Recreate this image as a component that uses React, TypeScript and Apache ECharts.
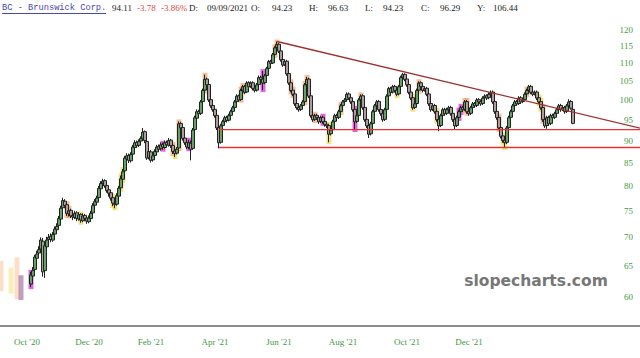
import React, { useEffect, useRef } from 'react';
import * as echarts from 'echarts';

// ---- data ----
const TOTAL_SLOTS = 320;
const FIRST_CANDLE = 15;
// [open, high, low, close]
const ohlc: number[][] = [
  [62.0, 64.0, 61.5, 63.5], [63.3, 64.8, 62.8, 64.2], [64.4, 66.9, 64.0, 66.5], [66.3, 67.6, 65.8, 67.0], [67.2, 68.4, 66.6, 67.8],
  [67.9, 70.0, 67.5, 69.5], [69.3, 69.9, 63.2, 64.0], [64.2, 69.0, 63.0, 68.5], [68.3, 70.1, 67.8, 69.5], [69.6, 70.6, 69.0, 70.0],
  [70.2, 70.7, 69.1, 69.6], [69.5, 71.0, 69.2, 70.5], [70.6, 72.0, 70.2, 71.5], [71.4, 72.6, 71.0, 72.0], [72.2, 74.0, 71.8, 73.5],
  [73.4, 76.0, 73.0, 75.5], [75.6, 77.6, 75.2, 77.0], [76.9, 77.3, 75.5, 76.0], [76.2, 76.5, 74.0, 74.5], [74.4, 75.6, 73.9, 75.0],
  [75.1, 75.4, 73.6, 74.0], [74.1, 74.6, 73.2, 73.8], [73.7, 75.0, 73.4, 74.5], [74.6, 74.9, 73.0, 73.5], [73.4, 74.7, 73.1, 74.2],
  [74.3, 74.5, 72.7, 73.2], [73.1, 74.5, 72.8, 74.0], [74.1, 74.4, 73.0, 73.5], [73.6, 73.9, 72.5, 73.0], [72.9, 74.1, 72.6, 73.6],
  [73.5, 75.0, 73.2, 74.5], [74.6, 76.5, 74.3, 76.0], [76.1, 77.3, 75.7, 76.8], [76.7, 78.0, 76.3, 77.5], [77.6, 80.0, 77.3, 79.5],
  [79.4, 81.0, 79.0, 80.5], [80.6, 81.5, 80.1, 81.0], [81.1, 81.4, 79.6, 80.0], [80.1, 80.5, 78.6, 79.0], [79.2, 79.6, 77.8, 78.5],
  [78.6, 78.9, 77.0, 77.5], [77.6, 78.0, 75.9, 76.5], [76.4, 77.0, 75.5, 76.2], [76.3, 78.5, 76.0, 78.0], [77.9, 80.0, 77.5, 79.5],
  [79.6, 82.2, 79.2, 81.5], [81.4, 83.6, 81.0, 83.0], [83.2, 86.5, 82.8, 86.0], [85.8, 87.1, 85.2, 86.5], [86.6, 87.0, 84.9, 85.5],
  [85.4, 87.3, 85.0, 86.8], [86.9, 89.0, 86.5, 88.5], [88.4, 90.1, 88.0, 89.5], [89.6, 90.0, 88.3, 88.8], [88.9, 90.3, 88.5, 89.8],
  [89.9, 91.0, 89.4, 90.5], [90.4, 93.0, 90.0, 92.0], [92.1, 92.4, 89.4, 90.0], [89.8, 90.2, 85.6, 86.0], [86.1, 88.0, 85.7, 87.5],
  [87.4, 87.8, 85.0, 85.5], [85.6, 87.0, 85.2, 86.5], [86.6, 88.0, 86.2, 87.5], [87.4, 89.0, 87.0, 88.5], [88.6, 89.1, 87.5, 88.0],
  [88.1, 89.6, 87.7, 89.0], [89.1, 89.5, 87.9, 88.5], [88.4, 90.0, 88.1, 89.5], [89.6, 90.0, 88.5, 89.0], [88.9, 90.6, 88.6, 90.0],
  [90.1, 90.4, 88.3, 88.8], [88.9, 89.2, 86.9, 87.5], [87.6, 88.0, 86.2, 87.0], [87.1, 88.5, 86.8, 88.0], [88.3, 94.6, 88.0, 94.0],
  [94.1, 94.5, 92.5, 93.0], [93.1, 93.4, 90.0, 90.5], [90.6, 91.0, 89.0, 89.5], [89.6, 90.0, 88.0, 88.5], [88.4, 90.2, 88.0, 89.5],
  [89.4, 90.0, 85.5, 88.0], [88.2, 93.0, 87.9, 92.5], [92.6, 96.0, 92.2, 95.5], [95.4, 97.6, 95.0, 97.0], [97.1, 97.5, 96.0, 96.5],
  [96.6, 100.0, 96.2, 99.5], [99.6, 103.0, 99.2, 102.5], [102.6, 106.8, 102.2, 105.5], [105.6, 106.0, 103.5, 104.0], [104.1, 104.5, 99.5, 100.0],
  [100.1, 100.6, 98.0, 98.5], [98.6, 99.0, 97.0, 97.5], [97.6, 98.0, 95.5, 96.0], [96.1, 96.5, 92.5, 93.0], [93.1, 93.5, 88.2, 89.5],
  [89.6, 94.0, 89.3, 93.5], [93.6, 95.0, 93.2, 94.5], [94.6, 96.0, 94.2, 95.5], [95.6, 96.0, 94.3, 94.8], [94.9, 96.5, 94.6, 96.0],
  [96.1, 97.5, 95.7, 97.0], [97.1, 98.5, 96.7, 98.0], [98.1, 100.0, 97.7, 99.5], [99.6, 101.5, 99.2, 101.0], [101.1, 101.4, 99.5, 100.0],
  [100.1, 103.0, 99.8, 102.5], [102.6, 104.0, 102.2, 103.5], [103.6, 104.0, 101.5, 102.0], [102.1, 105.0, 101.8, 104.5], [104.6, 105.0, 103.0, 103.5],
  [103.6, 105.0, 103.2, 104.5], [104.6, 105.0, 102.5, 103.0], [103.1, 103.5, 102.0, 102.5], [102.6, 104.5, 102.2, 104.0], [104.1, 106.6, 103.8, 106.0],
  [106.1, 106.5, 105.0, 105.5], [105.6, 107.8, 102.6, 104.5], [104.6, 107.0, 104.2, 106.5], [106.6, 109.0, 106.2, 108.5], [108.6, 111.0, 108.2, 110.5],
  [110.6, 111.0, 109.5, 110.0], [110.1, 113.0, 109.8, 112.5], [112.6, 115.0, 112.2, 114.5], [114.6, 116.4, 114.2, 115.5], [115.6, 116.0, 113.0, 113.5],
  [113.6, 114.0, 110.5, 111.0], [111.1, 111.5, 109.0, 109.5], [109.6, 111.0, 109.2, 110.5], [110.6, 111.0, 106.5, 107.0], [107.1, 107.5, 104.0, 104.5],
  [104.6, 105.0, 102.0, 102.5], [102.6, 103.0, 101.0, 101.5], [101.6, 102.0, 98.5, 99.0], [99.1, 99.5, 97.5, 98.0], [98.1, 98.5, 97.0, 97.5],
  [97.6, 99.0, 97.2, 98.5], [98.6, 100.0, 98.2, 99.5], [99.6, 104.5, 99.2, 104.0], [104.1, 106.2, 103.7, 105.5], [105.6, 106.0, 100.5, 101.0],
  [101.1, 101.5, 95.5, 96.0], [96.1, 96.5, 94.5, 95.0], [95.1, 96.5, 94.7, 96.0], [96.1, 96.5, 95.0, 95.5], [95.6, 96.0, 94.0, 94.5],
  [94.6, 96.0, 94.2, 95.5], [95.6, 96.0, 94.0, 94.5], [94.6, 95.0, 93.3, 93.8], [93.9, 94.3, 93.0, 93.5], [93.6, 94.0, 89.6, 91.5],
  [91.6, 93.0, 91.2, 92.5], [92.6, 95.0, 92.2, 94.5], [94.6, 96.5, 94.2, 96.0], [96.1, 96.5, 95.0, 95.5], [95.6, 97.5, 95.2, 97.0],
  [97.1, 99.0, 96.7, 98.5], [98.6, 100.0, 98.2, 99.5], [99.6, 100.5, 99.2, 100.0], [100.1, 102.0, 99.7, 101.5], [101.6, 102.0, 100.0, 100.5],
  [100.6, 101.0, 99.0, 99.5], [99.6, 100.0, 97.0, 97.5], [97.6, 98.0, 92.5, 94.5], [94.6, 96.5, 94.2, 96.0], [96.1, 100.5, 95.7, 100.0],
  [100.1, 101.5, 99.7, 101.0], [101.1, 101.5, 97.5, 98.0], [98.1, 98.5, 94.5, 95.0], [95.1, 95.5, 93.0, 93.5], [93.6, 94.0, 90.6, 91.5],
  [91.6, 94.5, 91.2, 94.0], [94.1, 97.5, 93.7, 97.0], [97.1, 99.0, 96.7, 98.5], [98.6, 100.0, 98.2, 99.5], [99.6, 100.0, 97.0, 97.5],
  [97.6, 98.0, 96.0, 96.5], [96.6, 97.0, 94.5, 95.0], [95.1, 98.0, 94.7, 97.5], [97.6, 101.5, 97.2, 101.0], [101.1, 103.5, 100.7, 103.0],
  [103.1, 103.5, 101.5, 102.0], [102.1, 104.0, 101.7, 103.5], [103.6, 104.0, 102.0, 102.5], [102.6, 103.0, 101.0, 101.5], [101.6, 104.0, 101.2, 103.5],
  [103.6, 106.5, 103.2, 106.0], [106.1, 107.3, 105.7, 106.8], [106.9, 107.2, 105.0, 105.5], [105.6, 106.0, 103.5, 104.0], [104.1, 104.5, 101.5, 102.0],
  [102.1, 102.5, 100.0, 100.5], [100.6, 101.0, 97.5, 98.0], [98.1, 99.5, 97.7, 99.0], [99.1, 103.0, 98.7, 102.5], [102.6, 105.0, 102.2, 104.5],
  [104.6, 105.0, 103.0, 103.5], [103.6, 104.0, 102.0, 102.5], [102.6, 103.5, 102.2, 103.0], [103.1, 103.5, 101.0, 101.5], [101.6, 102.0, 98.5, 99.0],
  [99.1, 99.5, 97.0, 97.5], [97.6, 99.0, 97.2, 98.5], [98.6, 99.0, 96.5, 97.0], [97.1, 97.5, 94.5, 95.0], [95.1, 95.5, 92.2, 93.5],
  [93.6, 96.5, 93.2, 96.0], [96.1, 98.0, 95.7, 97.5], [97.6, 98.0, 96.0, 96.5], [96.6, 98.0, 96.2, 97.5], [97.6, 98.5, 97.2, 98.0],
  [98.1, 98.5, 96.0, 96.5], [96.6, 97.0, 94.5, 95.0], [95.1, 95.5, 92.7, 93.5], [93.6, 96.0, 93.2, 95.5], [95.6, 97.5, 95.2, 97.0],
  [97.1, 98.5, 96.7, 98.0], [98.1, 98.5, 97.0, 97.5], [97.6, 100.0, 97.2, 99.5], [99.6, 100.0, 96.5, 97.0], [97.1, 97.5, 96.0, 96.5],
  [96.6, 98.5, 96.2, 98.0], [98.1, 99.5, 97.7, 99.0], [99.1, 99.5, 98.0, 98.5], [98.6, 100.5, 98.2, 100.0], [100.1, 100.5, 99.0, 99.5],
  [99.6, 100.0, 98.5, 99.0], [99.1, 101.0, 98.7, 100.5], [100.6, 101.5, 100.2, 101.0], [101.1, 101.5, 100.0, 100.5], [100.6, 102.0, 100.2, 101.5],
  [101.6, 102.5, 101.2, 102.0], [102.1, 102.5, 99.0, 99.5], [99.6, 100.0, 96.5, 97.0], [97.1, 97.5, 95.0, 95.5], [95.6, 96.0, 92.5, 93.0],
  [93.1, 93.5, 90.5, 91.0], [91.1, 91.5, 89.5, 90.0], [90.1, 90.5, 88.3, 89.5], [89.6, 93.5, 89.2, 93.0], [93.1, 96.0, 92.7, 95.5],
  [95.6, 97.5, 95.2, 97.0], [97.1, 99.0, 96.7, 98.5], [98.6, 100.0, 98.2, 99.5], [99.6, 100.0, 98.5, 99.0], [99.1, 101.0, 98.7, 100.5],
  [100.6, 101.0, 99.0, 99.5], [99.6, 100.5, 99.2, 100.0], [100.1, 102.0, 99.7, 101.5], [101.6, 103.0, 101.2, 102.5], [102.6, 104.0, 102.2, 103.5],
  [103.6, 104.0, 101.5, 102.0], [102.1, 102.5, 101.0, 101.5], [101.6, 102.5, 101.2, 102.0], [102.1, 102.5, 100.0, 100.5], [100.6, 101.0, 99.0, 99.5],
  [99.6, 100.0, 97.5, 98.0], [98.1, 98.5, 94.5, 95.0], [95.1, 95.5, 93.0, 93.5], [93.6, 96.0, 92.8, 95.5], [95.6, 96.0, 93.5, 94.0],
  [94.1, 96.5, 93.7, 96.0], [96.1, 96.5, 95.0, 95.5], [95.6, 97.0, 95.2, 96.5], [96.6, 98.0, 96.2, 97.5], [97.6, 99.0, 97.2, 98.5],
  [98.6, 99.0, 97.0, 97.5], [97.6, 98.5, 97.2, 98.0], [98.1, 98.5, 96.5, 97.0], [97.1, 99.0, 96.7, 98.5], [98.6, 100.2, 98.2, 99.5],
  [99.6, 100.0, 97.5, 97.9], [97.6, 98.2, 93.9, 94.11],
];

// pattern highlights: [slot, kind]  o = orange, y = yellow, m = magenta
const highlights: [number, string][] = [
  [15, 'm'], [33, 'o'], [34, 'o'], [40, 'y'], [56, 'y'], [57, 'y'], [60, 'y'], [61, 'y'],
  [81, 'm'], [86, 'o'], [87, 'y'], [89, 'o'], [94, 'm'], [102, 'o'], [120, 'o'], [121, 'o'],
  [131, 'm'], [137, 'o'], [138, 'o'], [145, 'o'], [146, 'o'], [152, 'o'], [153, 'o'], [157, 'o'],
  [161, 'm'], [164, 'y'], [170, 'o'], [177, 'm'], [180, 'o'], [198, 'y'], [206, 'y'], [209, 'o'],
  [218, 'y'], [229, 'm'], [230, 'm'], [232, 'o'], [233, 'o'], [249, 'o'], [251, 'y'], [252, 'y'],
  [263, 'o'], [269, 'y'], [270, 'y'], [271, 'o'],
];
// faded highlights without candles: [slot, low, high, kind]
const ghosts: [number, number, number, string][] = [
  [0, 61.2, 65.5, 'o'], [5, 60.8, 64.4, 'y'], [8, 59.9, 66.1, 'o'], [10, 59.8, 63.1, 'm'],
];

const xLabelSlots = [13, 44, 75, 107, 139, 171, 203, 234];
const xLabelTexts = ["Oct '20", "Dec '20", "Feb '21", "Apr '21", "Jun '21", "Aug '21", "Oct '21", "Dec '21"];
const yTicks = [60, 65, 70, 75, 80, 85, 90, 95, 100, 105, 110, 115, 120];
const yRange = [55.6, 127.0];

// drawn lines: [slotFrom, priceFrom, slotTo, priceTo]
const trendLines: [number, number, number, number][] = [
  [138, 116.4, 319.5, 92.9],
  [109, 92.6, 319.5, 92.6],
  [109, 88.4, 319.5, 88.4],
];
const trendColors = ['#a03030', '#f03030', '#f03030'];

const headerName = 'BC - Brunswick Corp.';
const header = [
  { t: '94.11', x: 112, c: '#222' },
  { t: '-3.78', x: 137, c: '#e04848' },
  { t: '-3.86%', x: 161, c: '#e04848' },
  { t: 'D:', x: 189, c: '#222' },
  { t: '09/09/2021', x: 207, c: '#222' },
  { t: 'O:', x: 251, c: '#222' },
  { t: '94.23', x: 272, c: '#222' },
  { t: 'H:', x: 309, c: '#222' },
  { t: '96.63', x: 328, c: '#222' },
  { t: 'L:', x: 365, c: '#222' },
  { t: '94.23', x: 383, c: '#222' },
  { t: 'C:', x: 421, c: '#222' },
  { t: '96.29', x: 440, c: '#222' },
  { t: 'Y:', x: 477, c: '#222' },
  { t: '106.44', x: 493, c: '#222' },
];

const HL_COLORS: Record<string, string> = {
  o: 'rgba(238,150,85,0.6)',
  y: 'rgba(232,210,50,0.6)',
  m: 'rgba(215,50,215,0.75)',
};
const GHOST_COLORS: Record<string, string> = {
  o: 'rgba(245,175,125,0.4)',
  y: 'rgba(245,220,100,0.45)',
  m: 'rgba(150,95,150,0.6)',
};

const L = Math.log;

export default function App() {
  const ref = useRef<HTMLDivElement>(null);
  useEffect(() => {
    if (!ref.current) return;
    const chart = echarts.init(ref.current, undefined, { renderer: 'svg' });

    const labelMap = new Map<number, string>();
    xLabelSlots.forEach((s, k) => labelMap.set(s, xLabelTexts[k]));
    const cats = Array.from({ length: TOTAL_SLOTS }, (_, i) => labelMap.get(i) ?? '');

    const candleData = ohlc.map((r, k) => [FIRST_CANDLE + k, L(r[0]), L(r[3]), L(r[2]), L(r[1])]);

    const hlData: number[][] = [];
    const hlColors: string[] = [];
    highlights.forEach(([slot, kind]) => {
      const r = ohlc[slot - FIRST_CANDLE];
      if (!r) return;
      hlData.push([slot, L(r[2]), L(r[1])]);
      hlColors.push(HL_COLORS[kind]);
    });
    ghosts.forEach(([slot, lo, hi, kind]) => {
      hlData.push([slot, L(lo), L(hi)]);
      hlColors.push(GHOST_COLORS[kind]);
    });

    const lineData = trendLines.map((t) => [t[0], L(t[1]), t[2], L(t[3])]);

    const graphic: any[] = [
      {
        type: 'text',
        x: 2,
        y: 8,
        style: {
          text: headerName,
          fill: '#4848b0',
          font: '8.7px "Liberation Mono", monospace',
          verticalAlign: 'middle',
        },
      },
      {
        type: 'line',
        shape: { x1: 2, y1: 13.5, x2: 106, y2: 13.5 },
        style: { stroke: '#4848b0', lineWidth: 1 },
      },
    ];
    header.forEach((h) => {
      graphic.push({
        type: 'text',
        x: h.x,
        y: 8,
        style: {
          text: h.t,
          fill: h.c,
          font: '9px "Liberation Serif", serif',
          verticalAlign: 'middle',
        },
      });
    });
    graphic.push({
      type: 'text',
      x: 536,
      y: 281,
      style: {
        text: 'slopecharts.com',
        fill: '#777777',
        font: 'bold 15.5px "DejaVu Sans", sans-serif',
        align: 'center',
        verticalAlign: 'middle',
      },
    });

    chart.setOption({
      animation: false,
      backgroundColor: '#ffffff',
      grid: { left: 0, right: 0, top: 8, bottom: 32, containLabel: false },
      xAxis: {
        type: 'category',
        data: cats,
        boundaryGap: true,
        axisTick: { show: false },
        axisLine: { show: true, lineStyle: { color: '#8c8c8c', width: 2 } },
        axisLabel: {
          interval: (idx: number) => labelMap.has(idx),
          color: '#3f9a3f',
          fontSize: 9,
          fontFamily: '"Liberation Serif", serif',
          margin: 11,
        },
        splitLine: { show: false },
      },
      yAxis: {
        type: 'value',
        position: 'right',
        min: L(yRange[0]),
        max: L(yRange[1]),
        axisLine: { show: false },
        axisTick: { show: false },
        splitLine: { show: false },
        axisLabel: {
          inside: true,
          customValues: yTicks.map((v) => L(v)),
          formatter: (v: number) => String(Math.round(Math.exp(v))),
          color: '#3f9a3f',
          fontSize: 9,
          fontFamily: '"Liberation Serif", serif',
          margin: 7,
        },
      },
      graphic,
      series: [
        {
          type: 'custom',
          z: 1,
          silent: true,
          data: hlData,
          encode: { x: 0, y: [1, 2] },
          renderItem: (params: any, api: any) => {
            const x = api.value(0);
            const pHi = api.coord([x, api.value(2)]);
            const pLo = api.coord([x, api.value(1)]);
            return {
              type: 'rect',
              shape: { x: pHi[0] - 2.5, y: pHi[1] - 2, width: 5, height: pLo[1] - pHi[1] + 4 },
              style: { fill: hlColors[params.dataIndex] },
            };
          },
        },
        {
          type: 'candlestick',
          z: 2,
          data: candleData,
          encode: { x: 0, y: [1, 2, 3, 4] },
          barWidth: 2.8,
          itemStyle: {
            color: '#62a262',
            color0: '#ad9c9c',
            borderColor: '#222222',
            borderColor0: '#222222',
            borderWidth: 1,
          },
        },
        {
          type: 'custom',
          z: 5,
          silent: true,
          clip: false,
          data: lineData,
          encode: { x: [0, 2], y: [1, 3] },
          renderItem: (params: any, api: any) => {
            const a = api.coord([api.value(0), api.value(1)]);
            const b = api.coord([api.value(2), api.value(3)]);
            return {
              type: 'line',
              shape: { x1: a[0], y1: a[1], x2: b[0], y2: b[1] },
              style: { stroke: trendColors[params.dataIndex], lineWidth: 1.4, fill: null },
            };
          },
        },
      ],
    });
    return () => chart.dispose();
  }, []);

  return <div ref={ref} style={{ width: 640, height: 358, position: 'absolute', left: 0, top: 0 }} />;
}
